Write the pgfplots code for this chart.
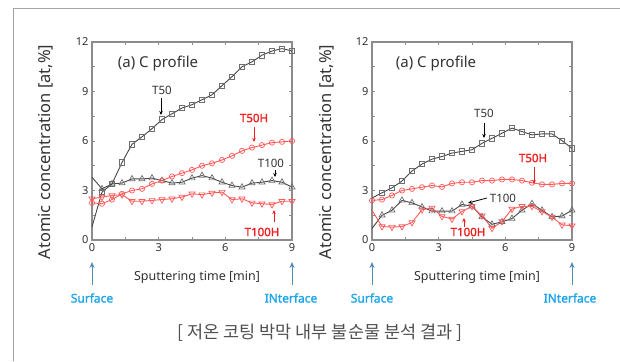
\documentclass[border=0pt]{standalone}
\usepackage{pgfplots}
\pgfplotsset{compat=1.18}
\usepackage{fontspec}
\setmainfont{Noto Sans}
\newfontfamily\semib{Noto Sans}[FakeBold=1.6]
\newfontfamily\kr{Noto Sans CJK KR}
\usetikzlibrary{arrows.meta}
\definecolor{axgray}{RGB}{140,140,140}
\definecolor{dline}{RGB}{70,70,70}
\definecolor{mgray}{RGB}{110,110,110}
\definecolor{rline}{RGB}{255,90,90}
\definecolor{rtext}{RGB}{240,30,30}
\definecolor{btext}{RGB}{30,165,235}
\definecolor{barrow}{RGB}{80,140,180}
\definecolor{captxt}{RGB}{80,80,80}
\definecolor{txt}{RGB}{50,50,50}

\pgfplotsset{
  myax/.style={
    width=200pt, height=198pt, scale only axis,
    xmin=0, xmax=9, ymin=0, ymax=12,
    xtick={0,3,6,9}, ytick={0,3,6,9,12},
    minor xtick={1.5,4.5,7.5}, minor ytick={1.5,4.5,7.5,10.5},
    tick align=inside,
    major tick length=3pt, minor tick length=3pt,
    axis line style={axgray, line width=1.1pt},
    every tick/.style={axgray, line width=0.8pt},
    tick label style={font=\fontsize{11}{13}\selectfont, text=txt},
    /pgf/number format/assume math mode=true,
    clip=false,
  },
  t50/.style={dline, line width=0.9pt, mark=square, mark size=2.7pt, mark options={mgray, fill=white, line width=0.7pt}},
  t100/.style={dline, line width=0.9pt, mark=triangle, mark size=3.5pt, mark options={mgray, fill=white, line width=0.7pt}},
  t50h/.style={rline, line width=0.9pt, mark=o, mark size=2.6pt, mark options={rline, fill=white, line width=0.7pt}},
  t100h/.style={rline, line width=0.9pt, mark=triangle, mark size=3.5pt, mark options={rline, fill=white, line width=0.7pt, rotate=180}},
}

\begin{document}
\begin{tikzpicture}[x=1pt,y=1pt]
\path[use as bounding box] (0,0) rectangle (620,361);
\draw[axgray!80, line width=1pt] (13,0) -- (13,352) -- (620,352);

% Left axis
\begin{axis}[myax, at={(92pt,121pt)}, anchor=south west]
\addplot[t50, mark indices={2,...,21}] coordinates {
(0,0.8) (0.45,2.9) (0.9,3.4) (1.35,4.7) (1.8,5.8) (2.25,6.25) (2.7,6.75) (3.15,7.3) (3.6,7.65) (4.05,8.0) (4.5,8.2) (4.95,8.5) (5.4,8.8) (5.85,9.35) (6.3,9.9) (6.75,10.5) (7.2,10.8) (7.65,11.2) (8.1,11.45) (8.55,11.6) (9.0,11.45)};
\addplot[t100, mark indices={2,...,21}] coordinates {
(0,3.8) (0.45,3.1) (0.9,3.4) (1.35,3.45) (1.8,3.7) (2.25,3.7) (2.7,3.75) (3.15,3.6) (3.6,3.45) (4.05,3.5) (4.5,3.75) (4.95,3.9) (5.4,3.75) (5.85,3.5) (6.3,3.3) (6.75,3.2) (7.2,3.45) (7.65,3.5) (8.1,3.6) (8.55,3.5) (9.0,3.2)};
\addplot[t50h] coordinates {
(0,2.25) (0.45,2.2) (0.9,2.45) (1.35,2.8) (1.8,3.0) (2.25,3.1) (2.7,3.4) (3.15,3.6) (3.6,3.85) (4.05,4.05) (4.5,4.25) (4.95,4.5) (5.4,4.65) (5.85,4.85) (6.3,5.1) (6.75,5.4) (7.2,5.6) (7.65,5.75) (8.1,5.9) (8.55,5.95) (9.0,6.0)};
\addplot[t100h] coordinates {
(0,2.5) (0.45,2.6) (0.9,2.7) (1.35,2.75) (1.8,2.35) (2.25,2.35) (2.7,2.4) (3.15,2.45) (3.6,2.5) (4.05,2.6) (4.5,2.8) (4.95,2.75) (5.4,2.85) (5.85,2.9) (6.3,2.45) (6.75,2.5) (7.2,2.25) (7.65,2.2) (8.1,2.15) (8.55,2.35) (9.0,2.35)};
\end{axis}

% Right axis
\begin{axis}[myax, at={(372pt,121pt)}, anchor=south west]
\addplot[t50, mark indices={2,...,21}] coordinates {
(0,2.55) (0.45,2.86) (0.9,3.16) (1.35,3.57) (1.8,4.18) (2.25,4.6) (2.7,4.9) (3.15,5.06) (3.6,5.27) (4.05,5.37) (4.5,5.47) (4.95,5.86) (5.4,6.16) (5.85,6.47) (6.3,6.78) (6.75,6.57) (7.2,6.37) (7.65,6.43) (8.1,6.43) (8.55,6.02) (9.0,5.55)};
\addplot[t100, mark indices={2,...,21}] coordinates {
(0,0.7) (0.45,1.5) (0.9,1.8) (1.35,2.4) (1.8,2.25) (2.25,2.0) (2.7,1.75) (3.15,1.75) (3.6,1.75) (4.05,2.15) (4.5,2.05) (4.95,1.4) (5.4,0.95) (5.85,1.1) (6.3,1.3) (6.75,1.8) (7.2,2.2) (7.65,1.8) (8.1,1.4) (8.55,1.45) (9.0,1.8)};
\addplot[t50h] coordinates {
(0,2.4) (0.45,2.45) (0.9,2.7) (1.35,3.0) (1.8,3.1) (2.25,3.2) (2.7,3.3) (3.15,3.22) (3.6,3.43) (4.05,3.5) (4.5,3.5) (4.95,3.6) (5.4,3.6) (5.85,3.67) (6.3,3.67) (6.75,3.6) (7.2,3.47) (7.65,3.37) (8.1,3.37) (8.55,3.43) (9.0,3.43)};
\addplot[t100h, mark indices={2,...,21}] coordinates {
(0,1.8) (0.45,0.82) (0.9,0.78) (1.35,0.82) (1.8,1.06) (2.25,1.84) (2.7,1.94) (3.15,1.43) (3.6,1.27) (4.05,1.73) (4.5,2.04) (4.95,1.47) (5.4,0.71) (5.85,1.12) (6.3,1.88) (6.75,2.04) (7.2,2.04) (7.65,1.73) (8.1,1.39) (8.55,0.92) (9.0,0.86)};
\end{axis}

\begin{scope}[font=\fontsize{15}{17}\selectfont]
\node[txt] at (158,297) {(a) C profile};
\node[txt] at (436,297) {(a) C profile};
\end{scope}
\begin{scope}[font=\fontsize{11.5}{13}\selectfont, >={Stealth[length=4pt,width=3.5pt]}, line width=0.8pt]
\node[txt] at (162,271) {T50};
\draw[->,black] (161,263) -- (161,246);
\node[rtext, font=\semib\fontsize{11.5}{13}\selectfont] at (254,243) {T50H};
\draw[->,rtext] (254,234) -- (254,219);
\node[txt] at (271,198) {T100};
\draw[->,black] (275,191) -- (275,184);
\node[rtext, font=\semib\fontsize{11.5}{13}\selectfont] at (262,129) {T100H};
\draw[->,rtext] (274,139) -- (274,151);
% right
\node[txt] at (484,248) {T50};
\draw[->,black] (484,238) -- (484,223);
\node[rtext, font=\semib\fontsize{11.5}{13}\selectfont] at (533,203) {T50H};
\draw[->,rtext] (534,194) -- (534,177);
\node[txt] at (503,163) {T100};
\draw[->,black] (487,163) -- (468,158);
\node[rtext, font=\semib\fontsize{11.5}{13}\selectfont] at (468,129) {T100H};
\draw[->,rtext] (464,134) -- (464,143);
\end{scope}

\node[txt, rotate=90, font=\fontsize{16.5}{18}\selectfont] at (46,209) {Atomic concentration [at,\%]};
\node[txt, rotate=90, font=\fontsize{16.5}{18}\selectfont] at (327,209) {Atomic concentration [at,\%]};
\node[txt, font=\fontsize{12.5}{14}\selectfont] at (197,84) {Sputtering time [min]};
\node[txt, font=\fontsize{12.5}{14}\selectfont] at (477,84) {Sputtering time [min]};

\begin{scope}[barrow, line width=1pt, >={Stealth[length=6pt,width=5pt]}]
\foreach \xx in {92,292,372,572} {\draw[->] (\xx,76) -- (\xx,99);}
\end{scope}
\begin{scope}[btext, font=\semib\fontsize{12}{14}\selectfont]
\node at (92,63) {Surface};
\node at (291,63) {INterface};
\node at (372,63) {Surface};
\node at (570,63) {INterface};
\end{scope}
\node[captxt, font=\kr\fontsize{17.5}{19}\selectfont] at (320,28) {[ 저온 코팅 박막 내부 불순물 분석 결과 ]};
\end{tikzpicture}
\end{document}
